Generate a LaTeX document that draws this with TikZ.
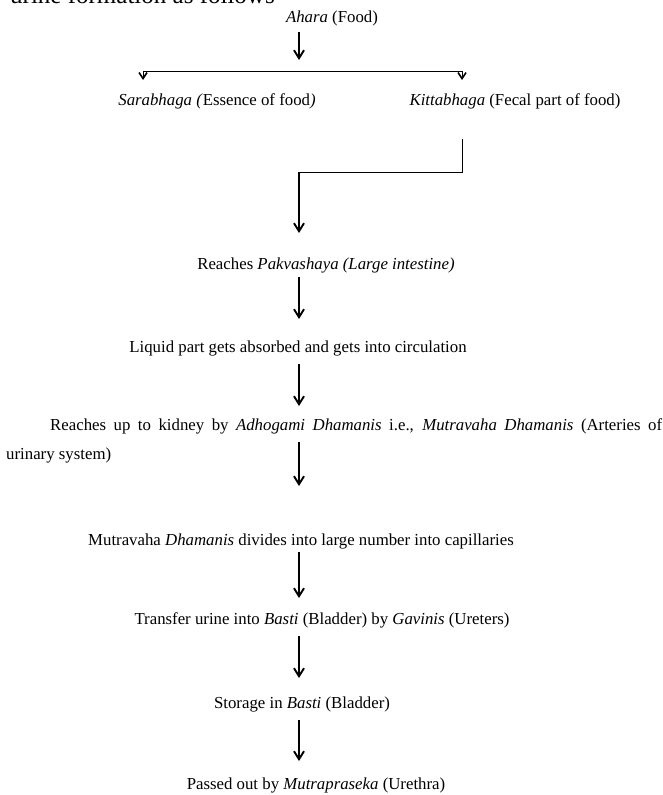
\documentclass[tikz,border=0pt]{standalone}
\usepackage{fontspec}
\setmainfont{Liberation Serif}
\usetikzlibrary{arrows.meta}
\begin{document}
\begin{tikzpicture}[x=1pt,y=-1pt,
  txt/.style={font=\fontsize{16.8}{20}\selectfont, inner sep=0pt, anchor=base},
  arr/.style={-{Straight Barb[length=8pt,width=10pt,line width=1.9pt]}, line width=2pt},
  sarr/.style={-{Straight Barb[length=6pt,width=8pt,line width=1.6pt]}, line width=1pt},
  seg/.style={line width=1pt}]
\useasboundingbox (0,0) rectangle (663,795);
\clip (0,0) rectangle (663,795);
\fill[white] (0,0) rectangle (663,795);
\coordinate (ax) at (299,0);
% cut-off line at the top
\node[txt, anchor=base west, font=\fontsize{25}{30}\selectfont] (top) at (10,3.5) {urine formation as follows};
\node[txt] (ahara) at (332,22) {\textit{Ahara} (Food)};
\node[txt] (sara) at (217,105) {\textit{Sarabhaga (}Essence of food\textit{)}};
\node[txt] (kitt) at (515,105) {\textit{Kittabhaga} (Fecal part of food)};
\node[txt] (pakv) at (326,269) {Reaches \textit{Pakvashaya (Large intestine)}};
\node[txt] (liq) at (298,352) {Liquid part gets absorbed and gets into circulation};
\node[txt, anchor=base west] (kid) at (50,430) {\makebox[612pt][s]{Reaches up to kidney by \textit{Adhogami Dhamanis} i.e., \textit{Mutravaha Dhamanis} (Arteries of}};
\node[txt, anchor=base west] (kid2) at (6,459) {urinary system)};
\node[txt] (mutr) at (301,545) {Mutravaha \textit{Dhamanis} divides into large number into capillaries};
\node[txt] (tran) at (322,624) {Transfer urine into \textit{Basti} (Bladder) by \textit{Gavinis} (Ureters)};
\node[txt] (stor) at (302,708) {Storage in \textit{Basti} (Bladder)};
\node[txt] (pass) at (316,789) {Passed out by \textit{Mutrapraseka} (Urethra)};
% split
\coordinate (bl) at (143,71);
\coordinate (br) at (462,71);
\coordinate (bm) at (299,71);
\draw[arr] ([yshift=-10pt]ahara.base -| bm) -- ([yshift=11pt]bm);
\draw[seg] (bl) -- (br);
\draw[sarr] (bl) -- ([yshift=25pt]sara.base -| bl);
\draw[sarr] (br) -- ([yshift=25pt]kitt.base -| br);
% kitta path
\coordinate (kc) at (462,172);
\draw[seg] ([yshift=-34pt]kitt.base -| kc) -- (kc) -- (kc -| ax);
\draw[arr] (kc -| ax) -- ([yshift=36pt]pakv.base -| ax);
\draw[arr] ([yshift=-8pt]pakv.base -| ax) -- ([yshift=33pt]liq.base -| ax);
\draw[arr] ([yshift=-12pt]liq.base -| ax) -- ([yshift=24pt]kid.base -| ax);
\draw[arr] ([yshift=-12pt]kid.base -| ax) -- ([yshift=59pt]mutr.base -| ax);
\draw[arr] ([yshift=-7pt]mutr.base -| ax) -- ([yshift=26pt]tran.base -| ax);
\draw[arr] ([yshift=-12pt]tran.base -| ax) -- ([yshift=30pt]stor.base -| ax);
\draw[arr] ([yshift=-12pt]stor.base -| ax) -- ([yshift=28pt]pass.base -| ax);
\end{tikzpicture}
\end{document}
